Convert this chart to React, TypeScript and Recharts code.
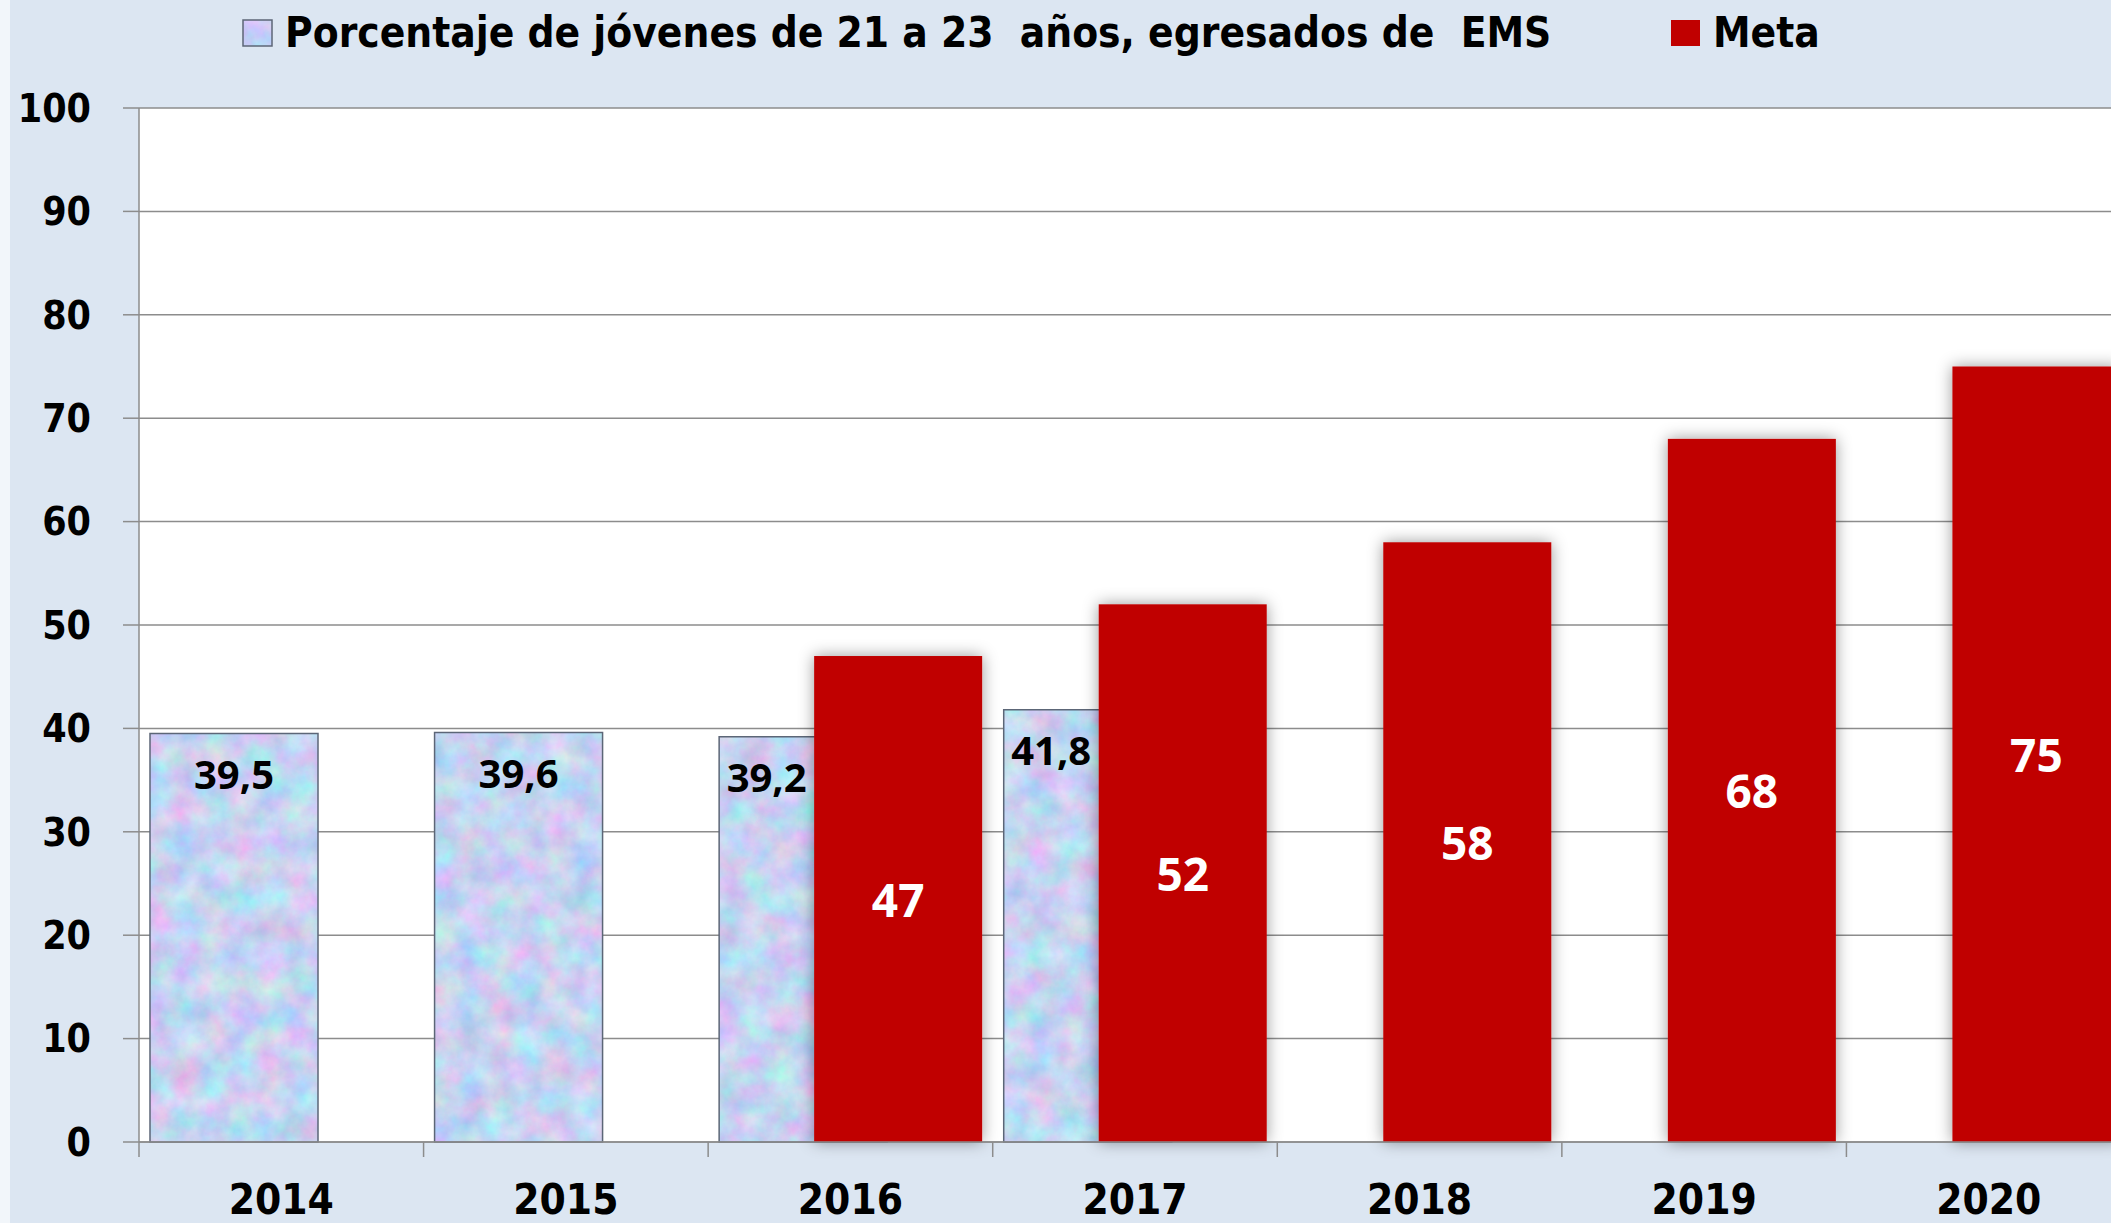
import React from "react";
import {
  Bar,
  BarChart,
  CartesianGrid,
  LabelList,
  Legend,
  XAxis,
  YAxis,
} from "recharts";

const years = ["2014", "2015", "2016", "2017", "2018", "2019", "2020"];
const egresados = [39.5, 39.6, 39.2, 41.8, null, null, null];
const meta = [null, null, 47, 52, 58, 68, 75];
const yTicks = [0, 10, 20, 30, 40, 50, 60, 70, 80, 90, 100];

const seriesNames: Record<string, string> = {
  egresados: "Porcentaje de jóvenes de 21 a 23  años, egresados de  EMS",
  meta: "Meta",
};

const data = years.map((year, i) => ({
  year,
  egresados: egresados[i],
  meta: meta[i],
}));

// chart is a bit wider than the frame, the last band runs off the right edge
const FRAME_W = 2111;
const FRAME_H = 1223;
const CHART_W = 2131;
const AXIS_W = 139;
const BAND = (CHART_W - AXIS_W) / years.length;
const BAR = 168;
const GAP = -73;

const GRID = "#8c8c8c";
const RED = "#c00000";
const AXIS_FONT = '"DejaVu Sans Condensed", "DejaVu Sans", sans-serif';
const LABEL_FONT = '"Open Sans", "Noto Sans", sans-serif';

const fmt = (v: number) => v.toFixed(1).replace(".", ",");

function YearTick({ x, y, payload }: any) {
  const edge = x - BAND / 2;
  return (
    <g>
      <line x1={edge} x2={edge} y1={y} y2={y + 15} stroke={GRID} strokeWidth={1.5} />
      <text
        x={x}
        y={y + 72}
        textAnchor="middle"
        fontFamily={AXIS_FONT}
        fontWeight={700}
        fontSize={42}
        fill="#000"
      >
        {payload.value}
      </text>
    </g>
  );
}

function EgresadosLabel({ x, y, width, value, index }: any) {
  if (value == null) return null;
  // where the Meta bar overlaps, center on the uncovered part
  const shown = meta[index] != null ? BAR + GAP : width;
  return (
    <text
      x={x + shown / 2}
      y={y + 40}
      textAnchor="middle"
      dominantBaseline="central"
      fontFamily={LABEL_FONT}
      fontWeight={700}
      fontSize={40}
      fill="#000"
    >
      {fmt(value)}
    </text>
  );
}

function MetaLabel({ x, y, width, height, value }: any) {
  if (value == null) return null;
  return (
    <text
      x={x + width / 2}
      y={y + height / 2}
      textAnchor="middle"
      dominantBaseline="central"
      fontFamily={LABEL_FONT}
      fontWeight={700}
      fontSize={46}
      fill="#fff"
    >
      {value}
    </text>
  );
}

function MetaBar({ x, y, width, height }: any) {
  if (!height || height <= 0) return null;
  return (
    <rect
      x={x}
      y={y}
      width={width}
      height={height}
      fill={RED}
      filter="url(#metaShadow)"
    />
  );
}

const legendLeft: Record<string, number> = { egresados: 242, meta: 1670 };

function SeriesLegend({ payload }: any) {
  return (
    <div style={{ position: "relative", width: FRAME_W, height: 70 }}>
      {(payload || []).map((entry: any) => (
        <div
          key={entry.dataKey}
          style={{
            position: "absolute",
            left: legendLeft[entry.dataKey],
            top: 10,
            display: "flex",
            alignItems: "center",
          }}
        >
          <svg width={31} height={28}>
            <rect
              x={1}
              y={1}
              width={29}
              height={26}
              fill={entry.dataKey === "meta" ? RED : "url(#tex)"}
              stroke={entry.dataKey === "meta" ? "none" : "#5c6677"}
              strokeWidth={1.5}
            />
          </svg>
          <span
            style={{
              marginLeft: 12,
              fontFamily: AXIS_FONT,
              fontWeight: 700,
              fontSize: 42,
              lineHeight: "46px",
              whiteSpace: "pre",
              color: "#000",
            }}
          >
            {seriesNames[entry.dataKey]}
          </span>
        </div>
      ))}
    </div>
  );
}

export default function App() {
  return (
    <div
      style={{
        position: "fixed",
        left: 0,
        top: 0,
        width: FRAME_W,
        height: FRAME_H,
        overflow: "hidden",
        background: "#dce6f2",
      }}
    >
      <div
        style={{
          position: "absolute",
          left: 0,
          top: 0,
          width: 10,
          height: FRAME_H,
          background: "#f2f6fa",
        }}
      />
      <BarChart
        width={CHART_W}
        height={FRAME_H}
        data={data}
        margin={{ top: 108, right: 0, bottom: 0, left: 0 }}
        barSize={BAR}
        barGap={GAP}
      >
        <defs>
          {/* mottled pastel texture for the egresados bars */}
          <filter
            id="mottle"
            x="0"
            y="0"
            width="100%"
            height="100%"
            colorInterpolationFilters="sRGB"
          >
            <feTurbulence type="fractalNoise" baseFrequency="0.035" numOctaves={5} seed={7} />
            <feColorMatrix
              type="matrix"
              values="0.45 0 0 0 0.55  -0.15 0.3 0 0 0.75  0 0 0.15 0 0.87  0 0 0 0 1"
            />
          </filter>
          <pattern id="tex" patternUnits="userSpaceOnUse" x={0} y={0} width={CHART_W} height={FRAME_H}>
            <rect width={CHART_W} height={FRAME_H} filter="url(#mottle)" />
          </pattern>
          <filter id="metaShadow" x="-25%" y="-10%" width="150%" height="120%">
            <feDropShadow dx={0} dy={0} stdDeviation={8} floodColor="#000" floodOpacity={0.4} />
          </filter>
        </defs>
        <CartesianGrid fill="#ffffff" stroke={GRID} strokeWidth={1.5} vertical={false} />
        <XAxis
          dataKey="year"
          height={81}
          interval={0}
          tickSize={0}
          tickMargin={0}
          tickLine={false}
          axisLine={{ stroke: GRID, strokeWidth: 1.5 }}
          tick={YearTick}
        />
        <YAxis
          width={AXIS_W}
          domain={[0, 100]}
          ticks={yTicks}
          interval={0}
          tickSize={16}
          tickMargin={32}
          axisLine={{ stroke: GRID, strokeWidth: 1.5 }}
          tickLine={{ stroke: GRID, strokeWidth: 1.5 }}
          tick={{ fill: "#000", fontSize: 39, fontWeight: 700, fontFamily: AXIS_FONT }}
        />
        <Legend
          layout="horizontal"
          verticalAlign="middle"
          align="center"
          wrapperStyle={{ top: 0, left: 0, width: FRAME_W, height: 70 }}
          content={SeriesLegend}
        />
        <Bar
          dataKey="egresados"
          name={seriesNames.egresados}
          fill="url(#tex)"
          stroke="#5c6677"
          strokeWidth={1.5}
          isAnimationActive={false}
        >
          <LabelList dataKey="egresados" content={EgresadosLabel} />
        </Bar>
        <Bar
          dataKey="meta"
          name={seriesNames.meta}
          fill={RED}
          shape={MetaBar}
          isAnimationActive={false}
        >
          <LabelList dataKey="meta" content={MetaLabel} />
        </Bar>
      </BarChart>
    </div>
  );
}
